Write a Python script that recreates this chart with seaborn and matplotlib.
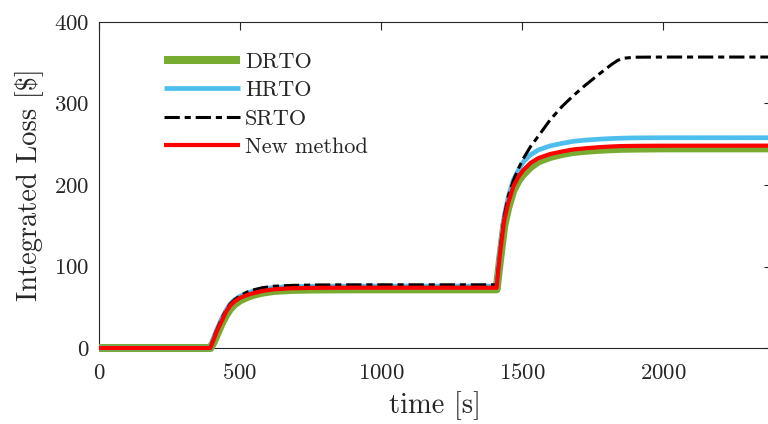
import numpy as np
import pandas as pd
import seaborn as sns
import matplotlib
matplotlib.use('Agg')
import matplotlib.pyplot as plt

#========================= Data ===============================================
time_s = [0, 395, 405, 415, 425, 435, 450, 465, 480, 500, 525, 550, 580, 620,
          680, 760, 900, 1410, 1422, 1437, 1451, 1469, 1487, 1504, 1530, 1558,
          1600, 1641, 1680, 1723, 1777, 1818, 1840, 1858, 1900, 2000, 2400]

drto = [0, 0, 6, 14, 22, 30, 40, 48, 53.5, 58.5, 62.5, 65.5, 68, 70,
        71.3, 71.8, 72, 72, 108, 150, 172, 193, 205, 213, 222, 229,
        234.5, 238, 240.5, 242, 243.3, 244, 244.3, 244.5, 244.7, 245, 245]

hrto = [0, 0, 11, 20, 28, 36, 46, 54, 59, 63.5, 67.5, 70, 72.5, 74.2,
        75.3, 75.8, 76, 76, 120, 162, 185, 206, 218, 228, 237, 243,
        248, 251, 253.5, 255, 256.3, 257, 257.3, 257.5, 257.8, 258, 258]

srto = [0, 0, 11, 20, 28, 36, 46, 54, 59, 64, 68.5, 71.5, 74, 75.8,
        76.8, 77.3, 77.5, 77.5, 120, 162, 186, 205, 220, 232, 247, 260,
        280, 296, 309, 322, 337, 348, 353, 355.5, 356.8, 357, 357]

new_method = [0, 0, 9, 18, 26, 33, 44, 52, 57, 61.5, 65, 67.5, 70, 72,
              73.3, 73.8, 74, 74, 116, 157, 178, 198, 210, 218, 227, 233,
              238, 241, 243.5, 245, 246.5, 247.3, 247.6, 247.8, 248, 248.2, 248.3]

series_names = ['DRTO', 'HRTO', 'SRTO', 'New method']
series_vals = [drto, hrto, srto, new_method]
x_ticks = [0, 500, 1000, 1500, 2000]
y_ticks = [0, 100, 200, 300, 400]

#========================= Style ==============================================
sns.set_style('white')
plt.rcParams['font.family'] = ['cmr10', 'DejaVu Serif']
plt.rcParams['axes.formatter.use_mathtext'] = True
plt.rcParams['mathtext.fontset'] = 'cm'
plt.rcParams['lines.solid_capstyle'] = 'butt'
plt.rcParams['lines.dash_capstyle'] = 'butt'

colors = {'DRTO': '#77AC30', 'HRTO': '#4DBEEE', 'SRTO': 'black', 'New method': '#FF0000'}
widths = {'DRTO': 5.8, 'HRTO': 3.4, 'SRTO': 2.2, 'New method': 3.0}
styles = {'DRTO': '-', 'HRTO': '-', 'SRTO': (0, (5, 1.6, 2.0, 1.6)), 'New method': '-'}

#========================= Plot ===============================================
fig = plt.figure(figsize=(7.68, 4.24), dpi=100)
ax = fig.add_axes([99 / 768, 1 - 348 / 424, 1.005 - 99 / 768, (348 - 22) / 424])

for name, vals in zip(series_names, series_vals):
    df = pd.DataFrame({'time': time_s, 'loss': vals})
    sns.lineplot(data=df, x='time', y='loss', ax=ax, color=colors[name],
                 linewidth=widths[name], linestyle=styles[name], label=name,
                 clip_on=False, zorder=5, solid_capstyle='butt')

ax.set_xlim(0, 2386)
ax.set_ylim(0, 400)
ax.set_xticks(x_ticks)
ax.set_yticks(y_ticks)
ax.tick_params(direction='in', length=5.5, width=0.8, colors='#262626',
               labelsize=16.5, top=True, right=True)
ax.tick_params(axis='x', pad=11)
ax.tick_params(axis='y', pad=7)
for sp in ax.spines.values():
    sp.set_linewidth(0.8)
    sp.set_color('#262626')
    sp.set_zorder(3)

ax.set_xlabel('time [s]', fontsize=20.5, color='#262626', labelpad=6)
ax.set_ylabel(r'Integrated Loss [\$]', fontsize=20.5, color='#262626', labelpad=8)

leg = ax.legend(loc='upper left', bbox_to_anchor=(0.073, 0.955), frameon=False,
                fontsize=16, handlelength=3.45, handletextpad=0.22,
                labelspacing=0.4, borderpad=0.2)
for t in leg.get_texts():
    t.set_color('#262626')

fig.savefig('out.png', dpi=100)
